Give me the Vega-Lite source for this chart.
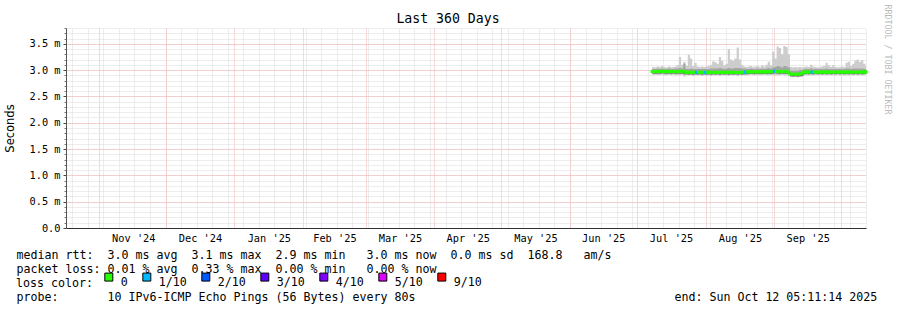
{
"$schema": "https://vega.github.io/schema/vega-lite/v6.json",
"width": 800, "height": 200,
"autosize": "none",
"padding": {"left": 66, "top": 28, "right": 31, "bottom": 82},
"background": "#ffffff",
"config": {"view": {"stroke": null}, "font": "DejaVu Sans Mono", "axis": {"labelFlush": false, "labelOverlap": false}},
"data": {"values": [
{"d":"2025-07-08","med":2.975,"lo":2.90,"q1":2.935,"q3":3.02,"hi":3.06,"loss":"0"},
{"d":"2025-07-09","med":2.97,"lo":2.91,"q1":2.93,"q3":3.02,"hi":3.05,"loss":"0"},
{"d":"2025-07-10","med":2.975,"lo":2.90,"q1":2.935,"q3":3.03,"hi":3.07,"loss":"0"},
{"d":"2025-07-11","med":2.97,"lo":2.91,"q1":2.93,"q3":3.02,"hi":3.06,"loss":"0"},
{"d":"2025-07-12","med":2.98,"lo":2.91,"q1":2.94,"q3":3.03,"hi":3.08,"loss":"0"},
{"d":"2025-07-13","med":2.975,"lo":2.90,"q1":2.935,"q3":3.02,"hi":3.06,"loss":"0"},
{"d":"2025-07-14","med":2.97,"lo":2.90,"q1":2.93,"q3":3.02,"hi":3.05,"loss":"0"},
{"d":"2025-07-15","med":2.975,"lo":2.91,"q1":2.935,"q3":3.03,"hi":3.07,"loss":"0"},
{"d":"2025-07-16","med":2.97,"lo":2.90,"q1":2.93,"q3":3.02,"hi":3.06,"loss":"0"},
{"d":"2025-07-17","med":2.975,"lo":2.91,"q1":2.935,"q3":3.02,"hi":3.06,"loss":"0"},
{"d":"2025-07-18","med":2.97,"lo":2.90,"q1":2.93,"q3":3.03,"hi":3.07,"loss":"0"},
{"d":"2025-07-19","med":2.975,"lo":2.90,"q1":2.935,"q3":3.03,"hi":3.09,"loss":"0"},
{"d":"2025-07-20","med":2.97,"lo":2.90,"q1":2.93,"q3":3.04,"hi":3.25,"loss":"0"},
{"d":"2025-07-21","med":2.975,"lo":2.91,"q1":2.935,"q3":3.03,"hi":3.10,"loss":"0"},
{"d":"2025-07-22","med":2.98,"lo":2.88,"q1":2.92,"q3":3.12,"hi":3.16,"loss":"0"},
{"d":"2025-07-23","med":2.96,"lo":2.90,"q1":2.92,"q3":3.02,"hi":3.08,"loss":"0"},
{"d":"2025-07-24","med":2.955,"lo":2.90,"q1":2.915,"q3":3.02,"hi":3.29,"loss":"0"},
{"d":"2025-07-25","med":2.96,"lo":2.90,"q1":2.92,"q3":3.03,"hi":3.22,"loss":"0"},
{"d":"2025-07-26","med":2.955,"lo":2.89,"q1":2.915,"q3":3.02,"hi":3.08,"loss":"0"},
{"d":"2025-07-27","med":2.96,"lo":2.90,"q1":2.92,"q3":3.02,"hi":3.14,"loss":"0"},
{"d":"2025-07-28","med":2.955,"lo":2.90,"q1":2.915,"q3":3.02,"hi":3.07,"loss":"1/10"},
{"d":"2025-07-29","med":2.96,"lo":2.90,"q1":2.92,"q3":3.02,"hi":3.06,"loss":"0"},
{"d":"2025-07-30","med":2.955,"lo":2.89,"q1":2.915,"q3":3.02,"hi":3.07,"loss":"0"},
{"d":"2025-07-31","med":2.96,"lo":2.90,"q1":2.92,"q3":3.02,"hi":3.06,"loss":"0"},
{"d":"2025-08-01","med":2.955,"lo":2.90,"q1":2.915,"q3":3.02,"hi":3.07,"loss":"1/10"},
{"d":"2025-08-02","med":2.96,"lo":2.90,"q1":2.92,"q3":3.02,"hi":3.08,"loss":"0"},
{"d":"2025-08-03","med":2.955,"lo":2.89,"q1":2.915,"q3":3.03,"hi":3.10,"loss":"0"},
{"d":"2025-08-04","med":2.96,"lo":2.90,"q1":2.92,"q3":3.03,"hi":3.17,"loss":"0"},
{"d":"2025-08-05","med":2.955,"lo":2.90,"q1":2.915,"q3":3.03,"hi":3.15,"loss":"0"},
{"d":"2025-08-06","med":2.96,"lo":2.90,"q1":2.92,"q3":3.03,"hi":3.12,"loss":"0"},
{"d":"2025-08-07","med":2.955,"lo":2.89,"q1":2.915,"q3":3.04,"hi":3.25,"loss":"0"},
{"d":"2025-08-08","med":2.96,"lo":2.90,"q1":2.92,"q3":3.03,"hi":3.18,"loss":"0"},
{"d":"2025-08-09","med":2.955,"lo":2.90,"q1":2.915,"q3":3.02,"hi":3.09,"loss":"0"},
{"d":"2025-08-10","med":2.96,"lo":2.90,"q1":2.92,"q3":3.03,"hi":3.12,"loss":"0"},
{"d":"2025-08-11","med":2.955,"lo":2.89,"q1":2.915,"q3":3.04,"hi":3.40,"loss":"0"},
{"d":"2025-08-12","med":2.96,"lo":2.90,"q1":2.92,"q3":3.03,"hi":3.20,"loss":"0"},
{"d":"2025-08-13","med":2.955,"lo":2.90,"q1":2.915,"q3":3.03,"hi":3.18,"loss":"0"},
{"d":"2025-08-14","med":2.96,"lo":2.90,"q1":2.92,"q3":3.04,"hi":3.22,"loss":"0"},
{"d":"2025-08-15","med":2.955,"lo":2.89,"q1":2.915,"q3":3.04,"hi":3.43,"loss":"0"},
{"d":"2025-08-16","med":2.96,"lo":2.90,"q1":2.92,"q3":3.04,"hi":3.20,"loss":"0"},
{"d":"2025-08-17","med":2.955,"lo":2.90,"q1":2.915,"q3":3.03,"hi":3.10,"loss":"0"},
{"d":"2025-08-18","med":2.96,"lo":2.90,"q1":2.92,"q3":3.03,"hi":3.07,"loss":"0"},
{"d":"2025-08-19","med":2.96,"lo":2.90,"q1":2.92,"q3":3.02,"hi":3.06,"loss":"1/10"},
{"d":"2025-08-20","med":2.965,"lo":2.90,"q1":2.925,"q3":3.02,"hi":3.07,"loss":"0"},
{"d":"2025-08-21","med":2.97,"lo":2.91,"q1":2.93,"q3":3.03,"hi":3.08,"loss":"0"},
{"d":"2025-08-22","med":2.965,"lo":2.90,"q1":2.925,"q3":3.02,"hi":3.06,"loss":"0"},
{"d":"2025-08-23","med":2.97,"lo":2.90,"q1":2.93,"q3":3.02,"hi":3.07,"loss":"0"},
{"d":"2025-08-24","med":2.965,"lo":2.91,"q1":2.925,"q3":3.03,"hi":3.08,"loss":"0"},
{"d":"2025-08-25","med":2.97,"lo":2.90,"q1":2.93,"q3":3.02,"hi":3.06,"loss":"0"},
{"d":"2025-08-26","med":2.965,"lo":2.90,"q1":2.925,"q3":3.03,"hi":3.09,"loss":"0"},
{"d":"2025-08-27","med":2.97,"lo":2.91,"q1":2.93,"q3":3.02,"hi":3.07,"loss":"0"},
{"d":"2025-08-28","med":2.965,"lo":2.90,"q1":2.925,"q3":3.03,"hi":3.10,"loss":"0"},
{"d":"2025-08-29","med":2.97,"lo":2.90,"q1":2.93,"q3":3.04,"hi":3.16,"loss":"0"},
{"d":"2025-08-30","med":2.965,"lo":2.90,"q1":2.925,"q3":3.03,"hi":3.09,"loss":"0"},
{"d":"2025-08-31","med":2.975,"lo":2.90,"q1":2.935,"q3":3.05,"hi":3.35,"loss":"0"},
{"d":"2025-09-01","med":2.98,"lo":2.90,"q1":2.94,"q3":3.06,"hi":3.22,"loss":"1/10"},
{"d":"2025-09-02","med":2.975,"lo":2.90,"q1":2.935,"q3":3.08,"hi":3.45,"loss":"0"},
{"d":"2025-09-03","med":2.97,"lo":2.90,"q1":2.93,"q3":3.07,"hi":3.42,"loss":"0"},
{"d":"2025-09-04","med":2.975,"lo":2.91,"q1":2.935,"q3":3.05,"hi":3.30,"loss":"0"},
{"d":"2025-09-05","med":2.97,"lo":2.90,"q1":2.93,"q3":3.08,"hi":3.46,"loss":"0"},
{"d":"2025-09-06","med":2.975,"lo":2.90,"q1":2.935,"q3":3.07,"hi":3.44,"loss":"0"},
{"d":"2025-09-07","med":2.97,"lo":2.90,"q1":2.93,"q3":3.05,"hi":3.30,"loss":"0"},
{"d":"2025-09-08","med":2.925,"lo":2.87,"q1":2.885,"q3":2.99,"hi":3.06,"loss":"0"},
{"d":"2025-09-09","med":2.92,"lo":2.87,"q1":2.88,"q3":2.99,"hi":3.05,"loss":"0"},
{"d":"2025-09-10","med":2.925,"lo":2.87,"q1":2.885,"q3":2.99,"hi":3.06,"loss":"0"},
{"d":"2025-09-11","med":2.92,"lo":2.86,"q1":2.88,"q3":2.99,"hi":3.05,"loss":"0"},
{"d":"2025-09-12","med":2.925,"lo":2.87,"q1":2.885,"q3":3.00,"hi":3.06,"loss":"0"},
{"d":"2025-09-13","med":2.93,"lo":2.87,"q1":2.89,"q3":3.00,"hi":3.05,"loss":"0"},
{"d":"2025-09-14","med":2.96,"lo":2.90,"q1":2.92,"q3":3.02,"hi":3.06,"loss":"0"},
{"d":"2025-09-15","med":2.965,"lo":2.90,"q1":2.925,"q3":3.02,"hi":3.07,"loss":"0"},
{"d":"2025-09-16","med":2.96,"lo":2.90,"q1":2.92,"q3":3.02,"hi":3.06,"loss":"0"},
{"d":"2025-09-17","med":2.965,"lo":2.90,"q1":2.925,"q3":3.03,"hi":3.10,"loss":"0"},
{"d":"2025-09-18","med":2.96,"lo":2.90,"q1":2.92,"q3":3.02,"hi":3.07,"loss":"1/10"},
{"d":"2025-09-19","med":2.965,"lo":2.90,"q1":2.925,"q3":3.02,"hi":3.06,"loss":"0"},
{"d":"2025-09-20","med":2.96,"lo":2.91,"q1":2.92,"q3":3.02,"hi":3.05,"loss":"0"},
{"d":"2025-09-21","med":2.965,"lo":2.90,"q1":2.925,"q3":3.02,"hi":3.06,"loss":"0"},
{"d":"2025-09-22","med":2.96,"lo":2.90,"q1":2.92,"q3":3.02,"hi":3.07,"loss":"0"},
{"d":"2025-09-23","med":2.965,"lo":2.90,"q1":2.925,"q3":3.02,"hi":3.08,"loss":"0"},
{"d":"2025-09-24","med":2.96,"lo":2.90,"q1":2.92,"q3":3.03,"hi":3.14,"loss":"0"},
{"d":"2025-09-25","med":2.965,"lo":2.90,"q1":2.925,"q3":3.02,"hi":3.09,"loss":"0"},
{"d":"2025-09-26","med":2.96,"lo":2.90,"q1":2.92,"q3":3.02,"hi":3.06,"loss":"0"},
{"d":"2025-09-27","med":2.965,"lo":2.90,"q1":2.925,"q3":3.02,"hi":3.09,"loss":"0"},
{"d":"2025-09-28","med":2.96,"lo":2.90,"q1":2.92,"q3":3.02,"hi":3.06,"loss":"0"},
{"d":"2025-09-29","med":2.965,"lo":2.91,"q1":2.925,"q3":3.02,"hi":3.05,"loss":"0"},
{"d":"2025-09-30","med":2.96,"lo":2.90,"q1":2.92,"q3":3.02,"hi":3.06,"loss":"0"},
{"d":"2025-10-01","med":2.965,"lo":2.90,"q1":2.925,"q3":3.02,"hi":3.07,"loss":"0"},
{"d":"2025-10-02","med":2.96,"lo":2.90,"q1":2.92,"q3":3.02,"hi":3.06,"loss":"0"},
{"d":"2025-10-03","med":2.965,"lo":2.90,"q1":2.925,"q3":3.03,"hi":3.14,"loss":"0"},
{"d":"2025-10-04","med":2.96,"lo":2.90,"q1":2.92,"q3":3.03,"hi":3.16,"loss":"0"},
{"d":"2025-10-05","med":2.965,"lo":2.90,"q1":2.925,"q3":3.02,"hi":3.08,"loss":"0"},
{"d":"2025-10-06","med":2.96,"lo":2.90,"q1":2.92,"q3":3.03,"hi":3.12,"loss":"0"},
{"d":"2025-10-07","med":2.965,"lo":2.90,"q1":2.925,"q3":3.03,"hi":3.18,"loss":"0"},
{"d":"2025-10-08","med":2.96,"lo":2.90,"q1":2.92,"q3":3.03,"hi":3.20,"loss":"0"},
{"d":"2025-10-09","med":2.965,"lo":2.90,"q1":2.925,"q3":3.03,"hi":3.16,"loss":"0"},
{"d":"2025-10-10","med":2.96,"lo":2.90,"q1":2.92,"q3":3.03,"hi":3.19,"loss":"0"},
{"d":"2025-10-11","med":2.965,"lo":2.90,"q1":2.925,"q3":3.02,"hi":3.12,"loss":"0"},
{"d":"2025-10-12","med":2.965,"lo":2.90,"q1":2.925,"q3":3.02,"hi":3.08,"loss":"0"},
{"d":"2025-10-12T05:11:14Z","med":2.965,"lo":2.90,"q1":2.925,"q3":3.02,"hi":3.08,"loss":"0"}
]},
"layer": [
{
"mark": {"type": "area", "interpolate": "step-after", "color": "#cdcdcd", "opacity": 1},
"encoding": {
"x": {"field": "d", "type": "temporal",
"scale": {"type": "utc", "nice": false, "domain": [{"year": 2024, "month": 10, "date": 17, "hours": 5, "minutes": 11, "seconds": 14, "utc": true}, {"year": 2025, "month": 10, "date": 12, "hours": 5, "minutes": 11, "seconds": 14, "utc": true}]},
"axis": {"orient": "top", "tickCount": {"interval": "week", "step": 1}, "grid": true, "gridColor": "#dadada", "gridDash": [1, 1], "gridWidth": 1, "labels": false, "ticks": false, "domain": false, "zindex": 0,
"title": "Last 360 Days", "titleFont": "DejaVu Sans Mono", "titleFontSize": 13.2, "titleFontWeight": "normal", "titleColor": "#000000", "titleX": 381.5, "titleY": -6, "titleAlign": "center", "titleAnchor": "middle", "titleBaseline": "alphabetic"}},
"y": {"field": "hi", "type": "quantitative",
"scale": {"domain": [0, 3.8], "nice": false, "zero": true},
"axis": {"orient": "left", "values": [0,0.1,0.2,0.3,0.4,0.5,0.6,0.7,0.8,0.9,1.0,1.1,1.2,1.3,1.4,1.5,1.6,1.7,1.8,1.9,2.0,2.1,2.2,2.3,2.4,2.5,2.6,2.7,2.8,2.9,3.0,3.1,3.2,3.3,3.4,3.5,3.6,3.7,3.8], "grid": true, "gridColor": "#dadada", "gridDash": [1, 1], "labels": false, "ticks": true, "tickSize": 2, "tickColor": "#777777", "domain": false, "title": null, "zindex": 0}},
"y2": {"field": "lo"}
}
},
{
"mark": {"type": "area", "interpolate": "step-after", "color": "#a4a4a4", "opacity": 1},
"encoding": {
"x": {"field": "d", "type": "temporal",
"axis": {"orient": "bottom", "tickCount": {"interval": "month", "step": 1}, "grid": true, "gridColor": "#f4b0b0", "gridDash": [1, 1], "gridWidth": 1, "labels": false, "ticks": false, "domain": true, "domainColor": "#333333", "domainWidth": 1, "zindex": 0,
"title": ["median\u00a0rtt:\u00a0\u00a03.0\u00a0ms\u00a0avg\u00a0\u00a03.1\u00a0ms\u00a0max\u00a0\u00a02.9\u00a0ms\u00a0min\u00a0\u00a0\u00a03.0\u00a0ms\u00a0now\u00a0\u00a00.0\u00a0ms\u00a0sd\u00a0\u00a0168.8\u00a0\u00a0\u00a0am/s",
"packet\u00a0loss:\u00a00.01\u00a0%\u00a0avg\u00a0\u00a00.33\u00a0%\u00a0max\u00a0\u00a00.00\u00a0%\u00a0min\u00a0\u00a0\u00a00.00\u00a0%\u00a0now"],
"titleFont": "DejaVu Sans Mono", "titleFontSize": 11.63, "titleFontWeight": "normal", "titleColor": "#000000", "titleLineHeight": 14, "titleX": -50, "titleY": 30, "titleAlign": "left", "titleAnchor": "start", "titleBaseline": "alphabetic"}},
"y": {"field": "q3", "type": "quantitative",
"axis": {"orient": "left", "values": [0, 0.5, 1.0, 1.5, 2.0, 2.5, 3.0, 3.5], "grid": true, "gridColor": "#f4b0b0", "gridDash": [1, 1], "gridWidth": 1, "ticks": true, "tickSize": 3, "tickColor": "#444444", "domain": true, "domainColor": "#555555", "domainWidth": 1, "zindex": 0,
"labelExpr": "datum.value == 0 ? '0.0' : format(datum.value, '.1f') + ' m'", "labelFont": "DejaVu Sans Mono", "labelFontSize": 10.3, "labelColor": "#000000", "labelPadding": 3,
"title": "Seconds", "titleFont": "DejaVu Sans", "titleFontSize": 11.5, "titleFontWeight": "normal", "titleColor": "#000000", "titleAngle": -90, "titleX": -56, "titleY": 100, "titleAlign": "center", "titleBaseline": "middle"}},
"y2": {"field": "q1"}
}
},
{
"mark": {"type": "area", "interpolate": "step-after", "color": "#6e6e6e", "opacity": 1},
"encoding": {
"x": {"field": "d", "type": "temporal",
"axis": {"orient": "bottom", "values": [
{"year": 2024, "month": 11, "date": 16, "hours": 12, "utc": true},
{"year": 2024, "month": 12, "date": 16, "hours": 12, "utc": true},
{"year": 2025, "month": 1, "date": 16, "hours": 12, "utc": true},
{"year": 2025, "month": 2, "date": 15, "hours": 0, "utc": true},
{"year": 2025, "month": 3, "date": 16, "hours": 12, "utc": true},
{"year": 2025, "month": 4, "date": 16, "hours": 0, "utc": true},
{"year": 2025, "month": 5, "date": 16, "hours": 12, "utc": true},
{"year": 2025, "month": 6, "date": 16, "hours": 0, "utc": true},
{"year": 2025, "month": 7, "date": 16, "hours": 12, "utc": true},
{"year": 2025, "month": 8, "date": 16, "hours": 12, "utc": true},
{"year": 2025, "month": 9, "date": 16, "hours": 0, "utc": true}],
"format": "%b '%y", "grid": false, "ticks": false, "domain": false, "labelFont": "DejaVu Sans Mono", "labelFontSize": 10.3, "labelColor": "#000000", "labelPadding": 5, "labelBaseline": "top", "labelAlign": "center", "title": null, "zindex": 0}},
"y": {"field": "med", "type": "quantitative",
"axis": {"orient": "right", "labels": false, "ticks": false, "grid": false, "domain": false, "zindex": 0,
"title": "RRDTOOL / TOBI OETIKER", "titleFont": "DejaVu Sans Mono", "titleFontSize": 8.3, "titleFontWeight": "normal", "titleColor": "#bbbbbb", "titleAngle": 90, "titleX": 20, "titleY": -24, "titleAlign": "left", "titleBaseline": "middle"}},
"y2": {"field": "q1"}
}
},
{
"mark": {"type": "square", "size": 10, "opacity": 1, "filled": true},
"encoding": {
"x": {"field": "d", "type": "temporal",
"axis": {"orient": "bottom", "labels": false, "ticks": false, "grid": false, "domain": false, "zindex": 0,
"title": "probe:\u00a0\u00a0\u00a0\u00a0\u00a0\u00a0\u00a010\u00a0IPv6-ICMP\u00a0Echo\u00a0Pings\u00a0(56\u00a0Bytes)\u00a0every\u00a080s\u00a0\u00a0\u00a0\u00a0\u00a0\u00a0\u00a0\u00a0\u00a0\u00a0\u00a0\u00a0\u00a0\u00a0\u00a0\u00a0\u00a0\u00a0\u00a0\u00a0\u00a0\u00a0\u00a0\u00a0\u00a0\u00a0\u00a0\u00a0\u00a0\u00a0\u00a0\u00a0\u00a0\u00a0\u00a0\u00a0\u00a0end:\u00a0Sun\u00a0Oct\u00a012\u00a005:11:14\u00a02025",
"titleFont": "DejaVu Sans Mono", "titleFontSize": 11.63, "titleFontWeight": "normal", "titleColor": "#000000", "titleX": -50, "titleY": 72, "titleAlign": "left", "titleAnchor": "start", "titleBaseline": "alphabetic"}},
"y": {"field": "med", "type": "quantitative", "axis": null},
"color": {"field": "loss", "type": "nominal",
"scale": {"domain": ["0", "1/10", "2/10", "3/10", "4/10", "5/10", "9/10"], "range": ["#26ff00", "#00b8ff", "#0059ff", "#5e00ff", "#7e00ff", "#dd00ff", "#ff0000"]},
"legend": {"orient": "none", "legendX": -50, "legendY": 243, "direction": "horizontal", "title": "loss\u00a0color:", "titleOrient": "left", "titleFont": "DejaVu Sans Mono", "titleFontSize": 11.63, "titleFontWeight": "normal", "titleColor": "#000000", "titlePadding": 10, "titleBaseline": "line-top", "titleLineHeight": 7.3,
"labelFont": "DejaVu Sans Mono", "labelFontSize": 11.63, "labelColor": "#000000", "labelOffset": 6, "columnPadding": 12, "labelBaseline": "top",
"symbolType": "square", "symbolSize": 64, "symbolStrokeColor": "#000000", "symbolStrokeWidth": 1, "symbolOpacity": 1}}
}
}
],
"resolve": {"axis": {"x": "independent", "y": "independent"}}
}
